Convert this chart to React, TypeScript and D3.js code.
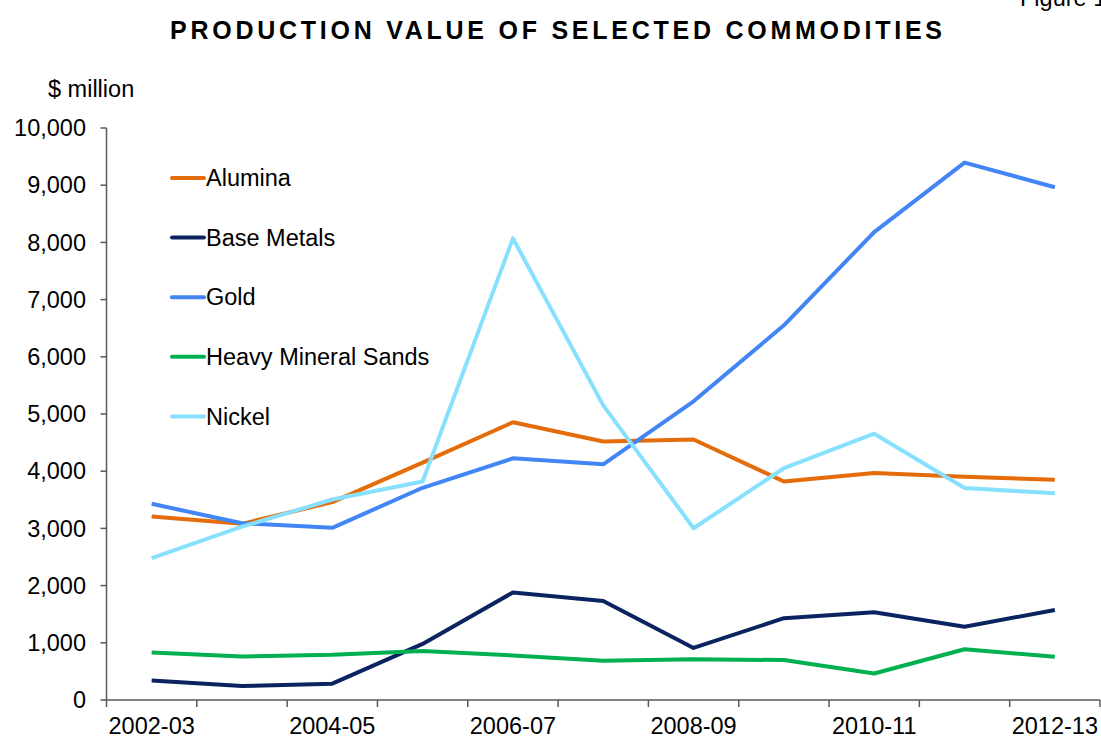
import * as d3 from "d3"

// categories and values ($ million)
const years = [
  "2002-03", "2003-04", "2004-05", "2005-06", "2006-07", "2007-08",
  "2008-09", "2009-10", "2010-11", "2011-12", "2012-13",
]
const tickYears = ["2002-03", "2004-05", "2006-07", "2008-09", "2010-11", "2012-13"]
const yTicks = [0, 1000, 2000, 3000, 4000, 5000, 6000, 7000, 8000, 9000, 10000]

const alumina = [3210, 3080, 3460, 4150, 4855, 4520, 4555, 3820, 3970, 3905, 3850]
const baseMetals = [340, 245, 285, 980, 1880, 1730, 910, 1430, 1535, 1280, 1575]
const gold = [3430, 3090, 3010, 3710, 4225, 4120, 5222, 6550, 8180, 9395, 8965]
const heavyMineralSands = [830, 760, 790, 855, 778, 685, 713, 698, 463, 888, 755]
const nickel = [2480, 3030, 3505, 3820, 8070, 5150, 3003, 4052, 4655, 3705, 3615]

const seriesNames = ["Alumina", "Base Metals", "Gold", "Heavy Mineral Sands", "Nickel"]
const seriesColors = ["#E46C0A", "#0B2361", "#4285F4", "#00B050", "#87E0FD"]
const seriesValues = [alumina, baseMetals, gold, heavyMineralSands, nickel]

const W = 1101
const H = 738
const left = 106.5
const right = 1100
const top = 128
const bottom = 700

export default function App() {
  const x = d3.scaleBand<string>().domain(years).range([left, right]).padding(0)
  const y = d3.scaleLinear().domain([0, 10000]).range([bottom, top])
  const cx = (yr: string) => (x(yr) as number) + x.bandwidth() / 2

  const line = d3
    .line<{ yr: string; v: number }>()
    .x((d) => cx(d.yr))
    .y((d) => y(d.v))

  const font = "'Liberation Sans', Arial, sans-serif"
  const axisColor = "#595959"
  const fs = 23.5
  const boundaries = years.map((yr) => x(yr) as number).concat([right])

  return (
    <svg
      width={W}
      height={H}
      style={{ position: "absolute", left: 0, top: 0, background: "#fff" }}
      fontFamily={font}
    >
      <text x={1020} y={6} fontSize={fs} fill="#000">
        Figure 1
      </text>
      <text
        x={170}
        y={39}
        fontSize={25}
        fontWeight="bold"
        textLength={772}
        lengthAdjust="spacing"
        fill="#000"
      >
        PRODUCTION VALUE OF SELECTED COMMODITIES
      </text>
      <text x={48} y={97} fontSize={fs} fill="#000">
        $ million
      </text>

      {/* y axis */}
      <line x1={left} x2={left} y1={top} y2={bottom} stroke={axisColor} strokeWidth={1.5} />
      {yTicks.map((t) => (
        <g key={t}>
          <line x1={left - 6} x2={left} y1={y(t)} y2={y(t)} stroke={axisColor} strokeWidth={1.5} />
          <text x={86} y={y(t)} dy="0.35em" textAnchor="end" fontSize={fs} fill="#000">
            {d3.format(",")(t)}
          </text>
        </g>
      ))}

      {/* x axis */}
      <line x1={left} x2={right} y1={bottom} y2={bottom} stroke={axisColor} strokeWidth={1.5} />
      {boundaries.map((b, i) => (
        <line key={i} x1={b} x2={b} y1={bottom} y2={bottom + 7} stroke={axisColor} strokeWidth={1.5} />
      ))}
      {tickYears.map((yr) => (
        <text key={yr} x={cx(yr)} y={734} textAnchor="middle" fontSize={fs} fill="#000">
          {yr}
        </text>
      ))}

      {/* series */}
      {seriesValues.map((vals, i) => (
        <path
          key={seriesNames[i]}
          d={line(years.map((yr, j) => ({ yr, v: vals[j] }))) as string}
          fill="none"
          stroke={seriesColors[i]}
          strokeWidth={4}
          strokeLinejoin="round"
        />
      ))}

      {/* legend */}
      {seriesNames.map((name, i) => {
        const ly = 178 + i * 59.6
        return (
          <g key={name}>
            <line x1={172} x2={204} y1={ly} y2={ly} stroke={seriesColors[i]} strokeWidth={4} strokeLinecap="round" />
            <text x={206} y={ly} dy="0.35em" fontSize={fs} fill="#000">
              {name}
            </text>
          </g>
        )
      })}
    </svg>
  )
}
